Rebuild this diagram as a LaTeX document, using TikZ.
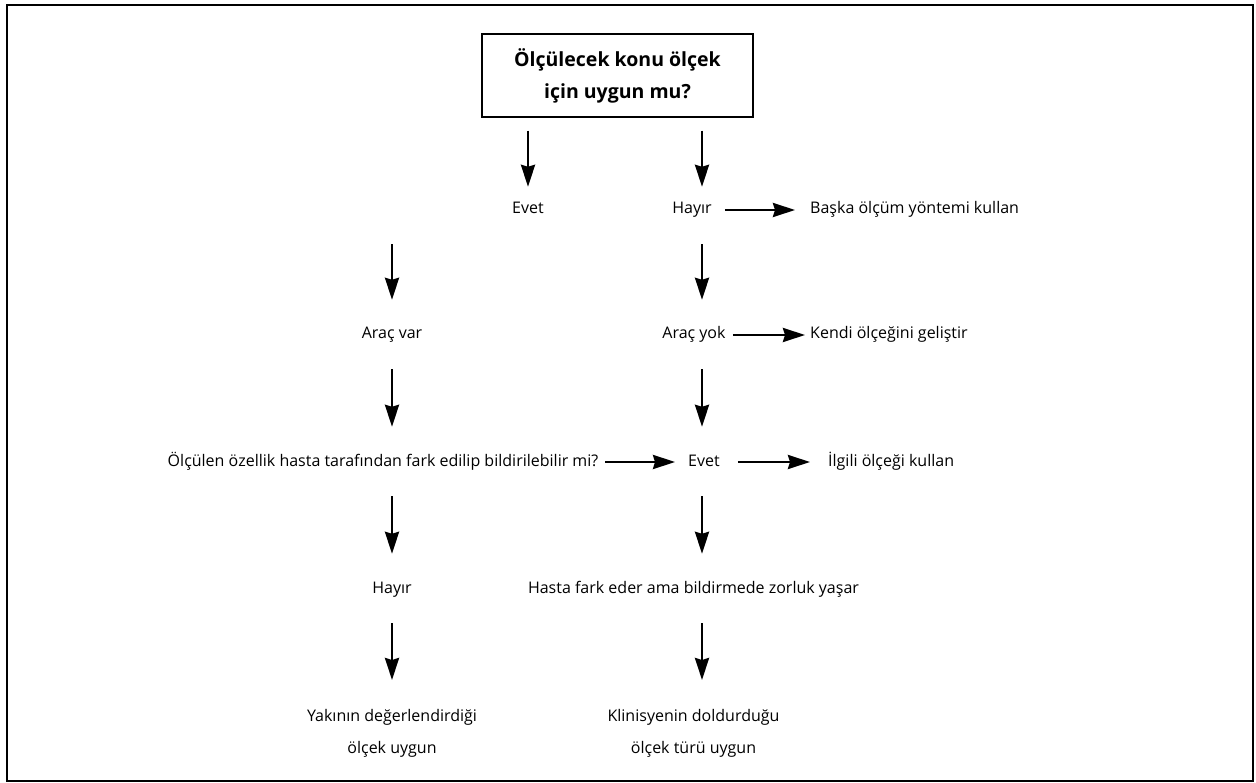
\documentclass[tikz,border=0pt]{standalone}
\usepackage{fontspec}
\setmainfont{Open Sans}
\usetikzlibrary{arrows.meta}
\tikzset{every picture/.append style={x=1pt, y=-1pt}}
\tikzset{
    yazi/.style={inner sep=0pt, text height=12pt, text depth=4pt,
    	font=\fontsize{16}{32}\selectfont},
    blok/.style={inner sep=0pt, align=center, anchor=north,
    	font=\fontsize{16}{32}\selectfont},
    kutu/.style={draw, line width=1.5pt, minimum width=271pt, minimum height=83pt,
    	align=center, font=\fontsize{19.5}{32}\selectfont\bfseries},
    ok/.style={line width=2.8pt, -{Stealth[length=22pt, width=14pt, inset=2pt]}},
    asagi/.style={ok, shorten <=26pt, shorten >=27pt}
}

\begin{document}
\begin{tikzpicture}
  \useasboundingbox (0,0) rectangle (1256,783);
  \draw[line width=1.5pt] (7,5) rectangle (1253,781);

  \coordinate (solK) at (392,0);
  \coordinate (ortaK) at (528,0);
  \coordinate (sagK) at (702,0);

  \node (soru) [kutu] at (617.5,75.5) {Ölçülecek konu ölçek\\için uygun mu?};
  \node (evet1) [yazi] at (528,210) {Evet};
  \node (hayir1) [yazi] at (692,210) {Hayır};
  \node (baska) [yazi, anchor=west] at (810,210) {Başka ölçüm yöntemi kullan};
  \node (aracvar) [yazi] at (392,335) {Araç var};
  \node (aracyok) [yazi] at (694,335) {Araç yok};
  \node (kendi) [yazi, anchor=west] at (810,335) {Kendi ölçeğini geliştir};
  \node (ozellik) [yazi] at (383,462) {Ölçülen özellik hasta tarafından fark edilip bildirilebilir mi?};
  \node (evet2) [yazi] at (704,462) {Evet};
  \node (ilgili) [yazi, anchor=west] at (828,462) {İlgili ölçeği kullan};
  \node (hayir2) [yazi] at (392,589) {Hayır};
  \node (zorluk) [yazi] at (693.5,589) {Hasta fark eder ama bildirmede zorluk yaşar};
  \node (yakin) [blok] at (392,709) {Yakının değerlendirdiği\\ölçek uygun};
  \node (klinik) [blok] at (693.5,709) {Klinisyenin doldurduğu\\ölçek türü uygun};

  \draw[ok, shorten <=13pt, shorten >=15pt] (soru.south -| ortaK) -- (evet1.north -| ortaK);
  \draw[ok, shorten <=13pt, shorten >=15pt] (soru.south -| sagK) -- (hayir1.north -| sagK);
  \draw[ok, shorten <=13pt, shorten >=15pt] (hayir1.east) -- (baska.west);
  \draw[asagi] (evet1.south -| solK) -- (aracvar.north -| solK);
  \draw[asagi] (hayir1.south -| sagK) -- (aracyok.north -| sagK);
  \draw[ok, shorten <=7pt, shorten >=5pt] (aracyok.east) -- (kendi.west);
  \draw[asagi] (aracvar.south -| solK) -- (ozellik.north -| solK);
  \draw[asagi] (aracyok.south -| sagK) -- (evet2.north -| sagK);
  \draw[ok, shorten <=7pt, shorten >=13pt] (ozellik.east) -- (evet2.west);
  \draw[ok, shorten <=18pt, shorten >=18pt] (evet2.east) -- (ilgili.west);
  \draw[asagi] (ozellik.south -| solK) -- (hayir2.north -| solK);
  \draw[asagi] (evet2.south -| sagK) -- (zorluk.north -| sagK);
  \draw[asagi, shorten >=29pt] (hayir2.south -| solK) -- (yakin.north -| solK);
  \draw[asagi, shorten >=29pt] (zorluk.south -| sagK) -- (klinik.north -| sagK);
\end{tikzpicture}
\end{document}
